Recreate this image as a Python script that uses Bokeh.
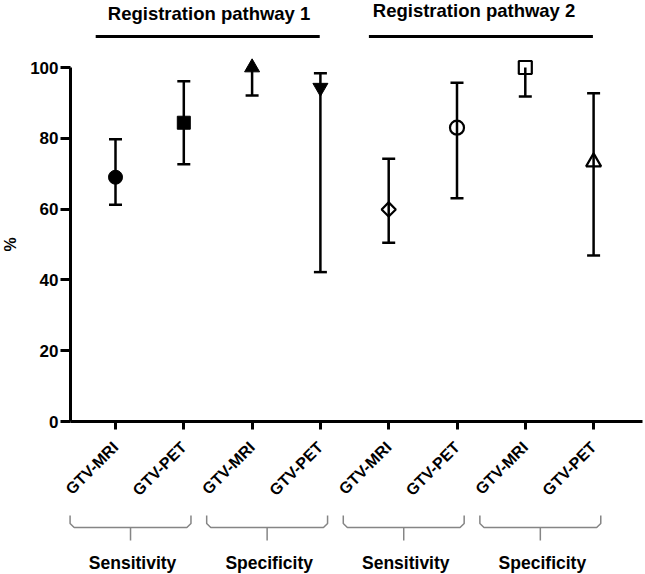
import math
from bokeh.plotting import figure
from bokeh.models import FixedTicker
from bokeh.core.properties import value
from bokeh.embed import file_html
from bokeh.resources import INLINE

# ---- data ----
categories = ["GTV-MRI", "GTV-PET", "GTV-MRI", "GTV-PET",
              "GTV-MRI", "GTV-PET", "GTV-MRI", "GTV-PET"]
metrics = ["Sensitivity", "Specificity", "Sensitivity", "Specificity"]
pathways = ["Registration pathway 1", "Registration pathway 2"]
values = [69.0, 84.4, 100.0, 94.3, 59.9, 83.0, 100.0, 73.3]
lower = [61.2, 72.7, 92.1, 42.2, 50.5, 63.1, 91.8, 46.9]
upper = [79.7, 96.1, 100.0, 98.4, 74.2, 95.7, 100.0, 92.7]
y_ticks = [0, 20, 40, 60, 80, 100]

# ---- styles ----
markers = ["circle", "square", "triangle", "inverted_triangle",
           "square", "circle", "square", "triangle"]
marker_angles = [0, 0, 0, 0, math.pi / 4, 0, 0, 0]
marker_sizes = [14, 13, 15, 15, 10, 14, 13, 15]
filled = [True, True, True, True, False, False, False, False]

FONT = "Liberation Sans"
W, H = 645, 574
PX = 68.3   # px per category
PY = 3.54   # px per percent
x_start = 1 - 115 / PX
x_end = x_start + W / PX
y_end = 100 + 67 / PY
y_start = y_end - H / PY
y_axis_x = 1 - 45 / PX


def ypx(py):
    """data y for a pixel row measured from the top"""
    return y_end - py / PY


p = figure(width=W, height=H, x_range=(x_start, x_end), y_range=(y_start, y_end),
           output_backend="svg", toolbar_location=None, min_border=0)
p.outline_line_color = None
p.xgrid.visible = False
p.ygrid.visible = False
p.background_fill_color = "white"

# x axis at y = 0
xa = p.xaxis[0]
xa.fixed_location = 0
xa.bounds = (y_axis_x, x_end - 0.05)
xa.ticker = FixedTicker(ticks=list(range(1, len(categories) + 1)))
xa.major_label_overrides = {i + 1: c for i, c in enumerate(categories)}
xa.major_label_orientation = math.pi / 4
xa.axis_line_width = 3
xa.major_tick_line_width = 3
xa.major_tick_out = 8
xa.major_tick_in = 0
xa.minor_tick_line_color = None
xa.major_label_text_font = FONT
xa.major_label_text_font_style = "bold"
xa.major_label_text_font_size = "16px"
xa.major_label_text_color = "black"
xa.major_label_standoff = 15

# y axis
ya = p.yaxis[0]
ya.fixed_location = y_axis_x
ya.bounds = (0, 100)
ya.ticker = FixedTicker(ticks=y_ticks)
ya.axis_line_width = 3
ya.major_tick_line_width = 3
ya.major_tick_out = 10
ya.major_tick_in = 0
ya.minor_tick_line_color = None
ya.major_label_text_font = FONT
ya.major_label_text_font_style = "bold"
ya.major_label_text_font_size = "17px"
ya.major_label_text_color = "black"
ya.major_label_standoff = 2

p.text(x=[x_start + 10 / PX], y=[50], text=["%"], angle=math.pi / 2,
       text_align="center", text_baseline="middle",
       text_font=value(FONT), text_font_style="bold", text_font_size="16px",
       text_color="black")

xs = list(range(1, len(categories) + 1))

# error bars
p.segment(x0=xs, y0=lower, x1=xs, y1=upper, line_color="black", line_width=2.5)
p.scatter(x=xs, y=lower, marker="dash", size=13, line_width=2.5, line_color="black")
cap_x = [x for x, v, u in zip(xs, values, upper) if u > v]
cap_y = [u for v, u in zip(values, upper) if u > v]
p.scatter(x=cap_x, y=cap_y, marker="dash", size=13, line_width=2.5, line_color="black")

# markers
for i in range(len(values)):
    if filled[i]:
        p.scatter(x=[xs[i]], y=[values[i]], marker=markers[i], size=marker_sizes[i],
                  angle=marker_angles[i], fill_color="black", line_color="black",
                  line_width=1)
    else:
        p.scatter(x=[xs[i]], y=[values[i]], marker=markers[i], size=marker_sizes[i],
                  angle=marker_angles[i], fill_color=None, line_color="black",
                  line_width=2.2)

# pathway headings
head_rows = [13, 10]
line_y = ypx(36)
for k, name in enumerate(pathways):
    c = 4 * k + 2.5 - 0.15
    p.segment(x0=[c - 1.64], y0=[line_y], x1=[c + 1.64], y1=[line_y],
              line_color="black", line_width=3)
    p.text(x=[c + (0.02 if k == 0 else -0.1)], y=[ypx(head_rows[k])], text=[name],
           text_align="center", text_baseline="middle", text_font=value(FONT),
           text_font_style="bold", text_font_size="18.5px", text_color="black")

# group brackets
arm_top = ypx(515)
horiz = ypx(527)
prong = ypx(540)
r = 0.06
d = 4 / PY
br_xs, br_ys = [], []
for g, name in enumerate(metrics):
    c = 2 * g + 1.22
    hw = 0.885
    xl, xr = c - hw, c + hw
    br_xs.append([xl, xl, xl + r, xr - r, xr, xr])
    br_ys.append([arm_top, horiz + d, horiz, horiz, horiz + d, arm_top])
    br_xs.append([c, c])
    br_ys.append([horiz, prong])
p.multi_line(xs=br_xs, ys=br_ys, line_color="#858585", line_width=1.5)

lab_x = [2 * g + 1.25 for g in range(len(metrics))]
p.text(x=lab_x, y=[ypx(562)] * len(metrics), text=metrics,
       text_align="center", text_baseline="middle", text_font=value(FONT),
       text_font_style="bold", text_font_size="17.5px", text_color="black")

open("out.html", "w").write(file_html(p, INLINE))
